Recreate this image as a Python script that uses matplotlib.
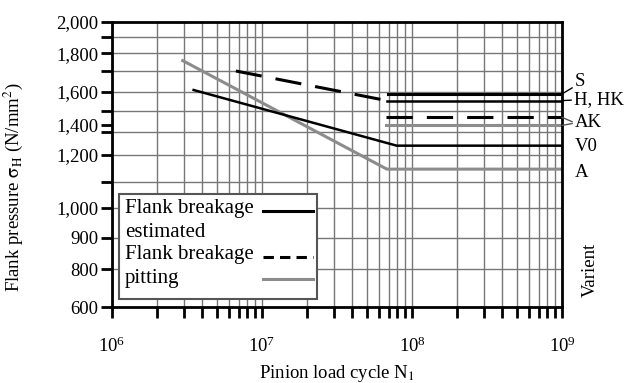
import numpy as np
import matplotlib
matplotlib.use('Agg')
import matplotlib.pyplot as plt
from matplotlib.patches import Rectangle
from matplotlib.lines import Line2D
from matplotlib.ticker import FixedLocator, FixedFormatter, LogLocator, NullFormatter

plt.rcParams['font.family'] = ['Liberation Serif', 'DejaVu Serif']
plt.rcParams['mathtext.fontset'] = 'stix'
FS = 13.5

# --- data ---
v0_x = [3.5e6, 7.9e7, 1e9]
v0_y = [1608, 1259, 1259]
pit_x = [2.9e6, 6.8e7, 1e9]
pit_y = [1762, 1146, 1146]
brk_x = [6.7e6, 6.8e7]
brk_y = [1700, 1553]
hhk_x = [6.8e7, 1e9]
hhk_y = [1553, 1553]
s_x = [6.9e7, 1e9]
s_y = [1588, 1588]
ak_x = [6.7e7, 1e9]
ak_y = [1454, 1454]
akp_x = [6.7e7, 1e9]
akp_y = [1397, 1397]

# y axis of the original is not a clean log scale: calibrate it from its ticks
y_cal_vals = [600, 800, 900, 1000, 1100, 1200, 1400, 1500, 1600, 1700, 1800, 1900, 2000]
y_cal_pos = [307, 269, 238, 208, 181.7, 155, 125, 111, 91.7, 71, 53.3, 36.7, 21.7]
y_ticks = [600, 800, 900, 1000, 1100, 1200, 1350, 1400, 1500, 1600, 1700, 1800, 1900, 2000]
y_grid = [800, 900, 1000, 1100, 1200, 1350, 1500, 1600, 1700, 1800, 1900]
y_labels = {600: '600', 800: '800', 900: '900', 1000: '1,000', 1200: '1,200',
            1400: '1,400', 1600: '1,600', 1800: '1,800', 2000: '2,000'}

lv = np.log10(y_cal_vals)
hv = 307 - np.array(y_cal_pos)


def fwd(v):
    v = np.asarray(v, dtype=float)
    return np.interp(np.log10(np.maximum(v, 1e-9)), lv, hv)


def inv(h):
    return 10 ** np.interp(np.asarray(h, dtype=float), hv, lv)


fig = plt.figure(figsize=(6.42, 3.83), dpi=100)
ax = fig.add_axes([112 / 642, (383 - 307) / 383, 450 / 642, 285.3 / 383])
ax.set_xscale('log')
ax.set_yscale('function', functions=(fwd, inv))
ax.set_xlim(1e6, 1e9)
ax.set_ylim(600, 2000)

# grid
ax.xaxis.set_major_locator(LogLocator(base=10, numticks=10))
ax.xaxis.set_minor_locator(LogLocator(base=10, subs=np.arange(2, 10), numticks=20))
ax.xaxis.set_minor_formatter(NullFormatter())
ax.yaxis.set_major_locator(FixedLocator(y_ticks))
ax.yaxis.set_major_formatter(FixedFormatter([y_labels.get(v, '') for v in y_ticks]))
ax.yaxis.set_minor_locator(FixedLocator([]))
ax.grid(True, which='both', axis='x', color='#777777', lw=1.0)
for g in y_grid:
    ax.axhline(g, color='#777777', lw=1.0, zorder=0.5)
ax.set_axisbelow(True)

for sp in ax.spines.values():
    sp.set_linewidth(2)
ax.tick_params(axis='both', which='both', direction='out', width=2, length=8,
               labelsize=FS, color='black')
ax.tick_params(axis='x', which='major', pad=13)
ax.tick_params(axis='y', which='major', pad=2)

# curves
ax.plot(pit_x, pit_y, color='#8c8c8c', lw=2.2, solid_capstyle='butt')
ax.plot(v0_x, v0_y, color='black', lw=1.8)
ax.plot(brk_x, brk_y, color='black', lw=2.2, dashes=(8.6, 4.6))
ax.plot(hhk_x, hhk_y, color='black', lw=1.8)
ax.plot(s_x, s_y, color='black', lw=2.2)
ax.plot(ak_x, ak_y, color='black', lw=2.2, dashes=(8.6, 4.6))
ax.plot(akp_x, akp_y, color='#8c8c8c', lw=2.2)

# variant labels on the right
kw = dict(xycoords='data', textcoords='axes fraction', fontsize=FS, va='center',
          ha='left', annotation_clip=False)
ln = dict(arrowstyle='-', color='black', lw=1, shrinkA=0, shrinkB=0)
ax.annotate('S', xy=(1e9, s_y[-1]), xytext=(1.029, 0.789),
            arrowprops=dict(relpos=(0, 0.25), **ln), **kw)
ax.annotate('H, HK', xy=(1e9, hhk_y[-1]), xytext=(1.027, 0.7256),
            arrowprops=dict(relpos=(0, 0.5), **ln), **kw)
ax.annotate('AK', xy=(1e9, ak_y[-1]), xytext=(1.029, 0.645),
            arrowprops=dict(relpos=(0, 0.5), color='#555555', arrowstyle='-',
                            lw=1, shrinkA=0, shrinkB=0), **kw)
ax.annotate('AK', xy=(1e9, akp_y[-1]), xytext=(1.029, 0.645), alpha=0,
            arrowprops=dict(relpos=(0, 0.5), color='#555555', arrowstyle='-',
                            lw=1, shrinkA=0, shrinkB=0), **kw)
ax.annotate('V0', xy=(1e9, v0_y[-1]), xytext=(1.029, 0.564), **kw)
ax.annotate('A', xy=(1e9, pit_y[-1]), xytext=(1.029, 0.473), **kw)
fig.text(590 / 642, 1 - 270 / 383, 'Varient', rotation=90, ha='center',
         va='center', fontsize=FS)

# legend box drawn by hand to keep the original layout
ax.add_patch(Rectangle((0.0162, 0.027), 0.4387, 0.369, transform=ax.transAxes,
                       fc='white', ec='#555555', lw=1.5, zorder=5))
leg_text = ['Flank breakage', 'estimated', 'Flank breakage', 'pitting']
leg_ty = [0.346, 0.262, 0.184, 0.099]
for t, yy in zip(leg_text, leg_ty):
    ax.text(0.029, yy, t, transform=ax.transAxes, fontsize=15, va='center',
            ha='left', zorder=6)
ax.add_line(Line2D([0.335, 0.447], [0.3375, 0.3375], transform=ax.transAxes,
                   color='black', lw=2.2, zorder=6))
ax.add_line(Line2D([0.335, 0.447], [0.176, 0.176], transform=ax.transAxes,
                   color='black', lw=2.2, dashes=(3.4, 2.0), zorder=6))
ax.add_line(Line2D([0.335, 0.447], [0.098, 0.098], transform=ax.transAxes,
                   color='#8c8c8c', lw=2.2, zorder=6))

ax.set_xlabel(r'Pinion load cycle N$_1$', fontsize=FS)
ax.xaxis.set_label_coords(0.5, -0.195)
ax.set_ylabel(r'Flank pressure $\mathrm{\sigma_H}$ (N/mm$^2$)', fontsize=FS)
ax.yaxis.set_label_coords((25 - 112) / 450, 0.42)

fig.savefig('out.png', dpi=100)
